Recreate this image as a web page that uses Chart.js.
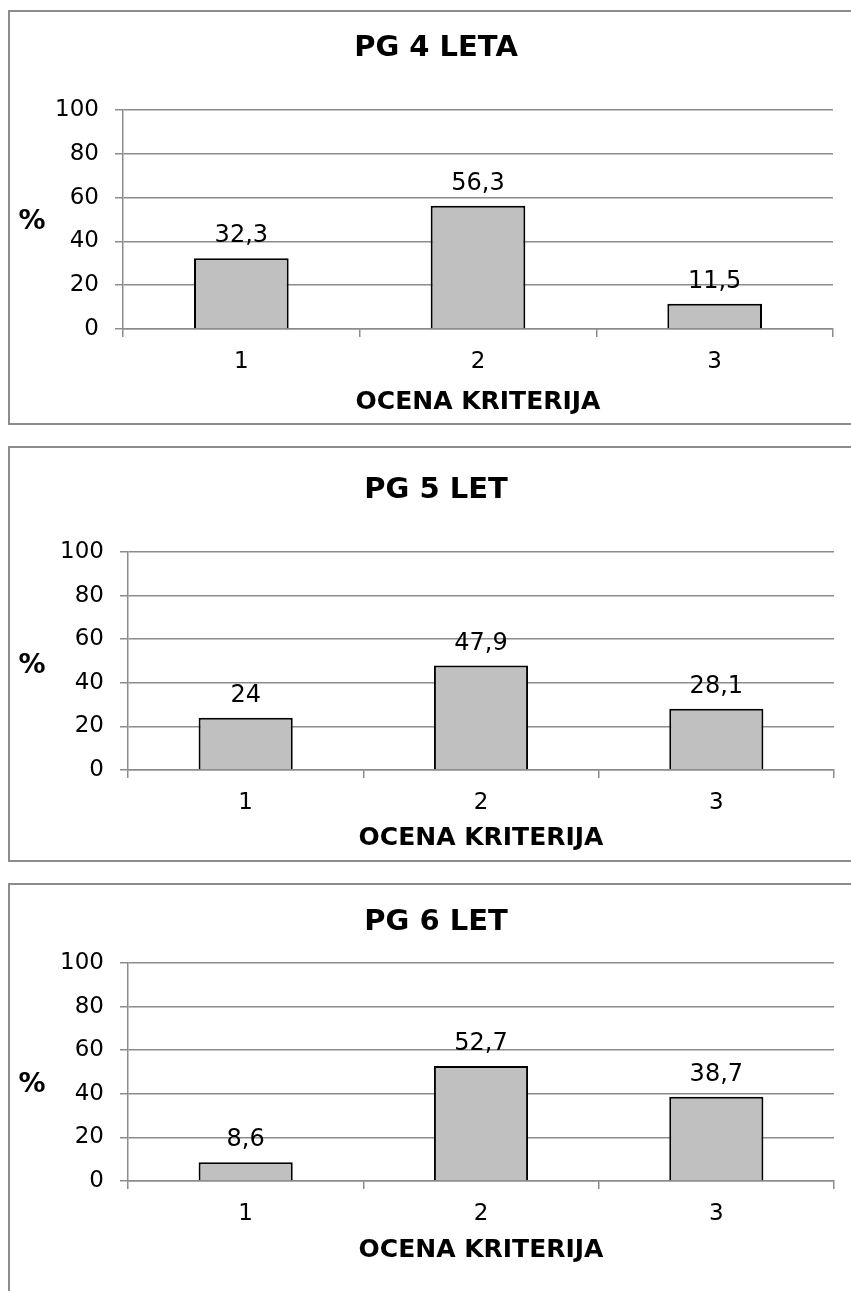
<!DOCTYPE html>
<html>
<head>
<meta charset="utf-8">
<script src="https://cdn.jsdelivr.net/npm/chart.js@4/dist/chart.umd.min.js"></script>
<style>
  html, body { margin: 0; padding: 0; background: #fff; overflow: hidden; width: 851px; height: 1291px; }
  .panel { position: absolute; box-sizing: border-box; border: 2px solid #8c8c8c; pointer-events: none; }
  canvas { position: absolute; }
</style>
</head>
<body>
<script>
// Data
const categories = ['1', '2', '3'];
const titles = ['PG 4 LETA', 'PG 5 LET', 'PG 6 LET'];
const pg4 = [32.3, 56.3, 11.5];
const pg5 = [24, 47.9, 28.1];
const pg6 = [8.6, 52.7, 38.7];
const yTicks = [0, 20, 40, 60, 80, 100];
const xAxisTitle = 'OCENA KRITERIJA';
const yAxisTitle = '%';

// Panel geometry (page pixels)
const PANEL_LEFT = 8;
const PANEL_WIDTH = 856;
const layouts = [
  { values: pg4, title: titles[0], top: 10,  height: 415, plotLeft: 123, plotRight: 833, plotTop: 110, plotBottom: 329,  titleY: 48,  xTitleY: 402.7, unitY: 222 },
  { values: pg5, title: titles[1], top: 446, height: 416, plotLeft: 128, plotRight: 834, plotTop: 552, plotBottom: 770,  titleY: 490, xTitleY: 838,   unitY: 666 },
  { values: pg6, title: titles[2], top: 883, height: 416, plotLeft: 128, plotRight: 834, plotTop: 963, plotBottom: 1181, titleY: 922, xTitleY: 1250.5, unitY: 1085 }
];

const FONT = '"DejaVu Sans", Verdana, sans-serif';
const TITLE_SIZE = 29, TICK_SIZE = 23, AXIS_TITLE_SIZE = 25, UNIT_SIZE = 27, LABEL_SIZE = 24;
const GRID = '#8c8c8c';
const TICK_LEN = 8;

Chart.defaults.font.family = FONT;
Chart.defaults.color = '#000';

const fmt = v => String(v).replace('.', ',');

// Value labels above bars and the horizontal "%" unit label
const decorations = {
  id: 'decorations',
  afterDatasetsDraw(chart, args, opts) {
    const ctx = chart.ctx;
    ctx.save();
    ctx.fillStyle = '#000';
    ctx.font = LABEL_SIZE + 'px ' + FONT;
    ctx.textAlign = 'center';
    ctx.textBaseline = 'alphabetic';
    const meta = chart.getDatasetMeta(0);
    meta.data.forEach((bar, i) => {
      ctx.fillText(fmt(chart.data.datasets[0].data[i]), bar.x, bar.y - 16);
    });
    ctx.font = 'bold ' + UNIT_SIZE + 'px ' + FONT;
    ctx.textBaseline = 'middle';
    ctx.fillText(opts.text, opts.x, opts.y);
    ctx.restore();
  }
};

layouts.forEach(L => {
  const canvas = document.createElement('canvas');
  canvas.width = PANEL_WIDTH;
  canvas.height = L.height;
  canvas.style.left = PANEL_LEFT + 'px';
  canvas.style.top = L.top + 'px';
  document.body.appendChild(canvas);

  const frame = document.createElement('div');
  frame.className = 'panel';
  frame.style.left = PANEL_LEFT + 'px';
  frame.style.top = L.top + 'px';
  frame.style.width = PANEL_WIDTH + 'px';
  frame.style.height = L.height + 'px';
  document.body.appendChild(frame);

  const side = PANEL_LEFT + PANEL_WIDTH - L.plotRight;
  const yAxisWidth = L.plotLeft - PANEL_LEFT - side;
  const titleLH = TITLE_SIZE * 1.2;
  const titleRel = L.titleY - L.top;
  const plotTopRel = L.plotTop - L.top;
  const plotBottomRel = L.plotBottom - L.top;
  const axisTitleLH = AXIS_TITLE_SIZE * 1.2;
  const xAxisHeight = (L.xTitleY - L.plotBottom) + axisTitleLH / 2;
  const bottomPad = L.height - plotBottomRel - xAxisHeight;

  new Chart(canvas, {
    type: 'bar',
    data: {
      labels: categories,
      datasets: [{
        data: L.values,
        backgroundColor: '#c0c0c0',
        borderColor: '#000',
        borderWidth: 2,
        barPercentage: 0.4,
        categoryPercentage: 1.0
      }]
    },
    options: {
      responsive: false,
      animation: false,
      devicePixelRatio: 1,
      layout: { padding: { left: side, right: side, top: 0, bottom: bottomPad } },
      plugins: {
        legend: { display: false },
        tooltip: { enabled: false },
        title: {
          display: true,
          text: L.title,
          color: '#000',
          font: { size: TITLE_SIZE, weight: 'bold', family: FONT, lineHeight: 1.2 },
          padding: { top: titleRel - titleLH / 2, bottom: plotTopRel - titleRel - titleLH / 2 }
        },
        decorations: { text: yAxisTitle, x: 32 - PANEL_LEFT, y: L.unitY - L.top }
      },
      scales: {
        x: {
          offset: true,
          grid: { drawOnChartArea: false, drawTicks: true, tickLength: TICK_LEN, color: GRID, lineWidth: 1.5, offset: true },
          border: { display: true, color: GRID, width: 1.5 },
          ticks: { font: { size: TICK_SIZE, lineHeight: 1.2 }, padding: 33 - TICK_LEN - TICK_SIZE * 0.6, color: '#000' },
          title: {
            display: true,
            text: xAxisTitle,
            color: '#000',
            font: { size: AXIS_TITLE_SIZE, weight: 'bold', lineHeight: 1.2 },
            padding: { top: 0, bottom: 0 }
          },
          afterFit: s => { s.height = xAxisHeight; }
        },
        y: {
          min: 0,
          max: 100,
          afterBuildTicks: s => { s.ticks = yTicks.map(v => ({ value: v })); },
          grid: { color: GRID, lineWidth: 1.5, tickLength: TICK_LEN, drawTicks: true },
          border: { display: true, color: GRID, width: 1.5 },
          ticks: { font: { size: TICK_SIZE }, padding: 16, color: '#000' },
          afterFit: s => { s.width = yAxisWidth; }
        }
      }
    },
    plugins: [decorations]
  });
});
</script>
</body>
</html>
